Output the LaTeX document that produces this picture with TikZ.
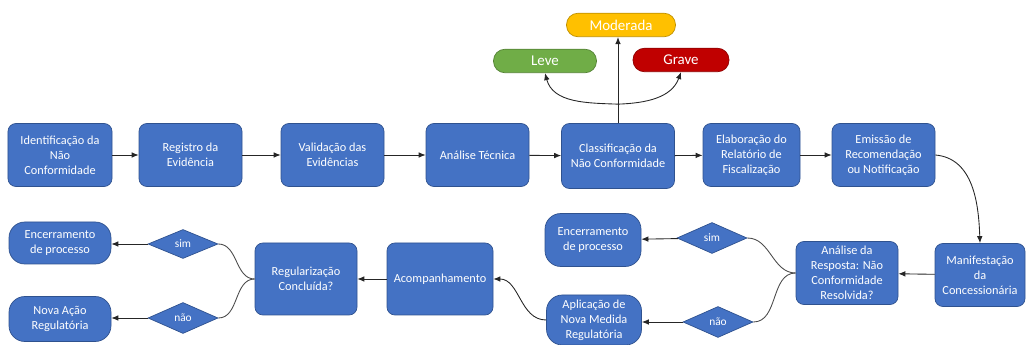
\documentclass[tikz,border=0pt]{standalone}
\usepackage{fontspec}
\setmainfont{Carlito}
\usetikzlibrary{arrows.meta, positioning, shapes.geometric, calc}
\definecolor{fsblue}{HTML}{4472C4}
\definecolor{fsedge}{HTML}{2F528F}
\definecolor{fsgreen}{HTML}{70AD47}
\definecolor{fsyellow}{HTML}{FFC000}
\definecolor{fsred}{HTML}{C00000}

\begin{document}
\begin{tikzpicture}[
  every node/.style={font=\fontsize{7}{8.5}\selectfont, text=white},
  box/.style={rectangle, rounded corners=4.5pt, draw=fsedge, fill=fsblue, minimum width=#1, minimum height=1.26cm, align=center, inner sep=1pt},
  box/.default=2.06cm,
  endbox/.style={rectangle, rounded corners=9pt, draw=fsedge, fill=fsblue, minimum width=#1, align=center, inner sep=1pt},
  endbox/.default=2.04cm,
  level/.style={rectangle, rounded corners=6.5pt, draw=#1!75!black, fill=#1, minimum height=0.47cm, font=\fontsize{8.5}{10}\selectfont},
  choice/.style={diamond, aspect=2.3, draw=fsedge, fill=fsblue, minimum width=1.4cm, minimum height=0.62cm, inner sep=0pt, font=\fontsize{6.5}{8}\selectfont},
  arrow/.style={-{Latex[length=4pt,width=3.2pt]}, black!85, line width=0.5pt},
  link/.style={black!70, line width=0.5pt},
]
\useasboundingbox (0,0) rectangle (20.52,6.9);

% main line
\node[box=2.08cm] (ident) at (1.2,3.8) {Identificação da\\Não\\Conformidade};
\node[box] (registro) at (3.81,3.8) {Registro da\\Evidência};
\node[box] (valida) at (6.65,3.8) {Validação das\\Evidências};
\node[box] (tecnica) at (9.55,3.8) {Análise Técnica};
\node[box=2.26cm, minimum height=1.3cm] (classif) at (12.36,3.78) {Classificação da\\Não Conformidade};
\node[box=1.94cm] (relatorio) at (15.03,3.8) {Elaboração do\\Relatório de\\Fiscalização};
\node[box] (emissao) at (17.67,3.8) {Emissão de\\Recomendação\\ou Notificação};

% severity levels
\node[level=fsyellow, minimum width=2.18cm] (moderada) at (12.42,6.4) {Moderada};
\node[level=fsgreen, minimum width=2.06cm] (leve) at (10.9,5.68) {Leve};
\node[level=fsred, minimum width=1.92cm] (grave) at (13.62,5.7) {Grave};
\coordinate (split) at ($(classif.north)+(0,0.38)$);

% response loop
\node[box=1.8cm] (manif) at (19.6,1.4) {Manifestação\\da\\Concessionária};
\node[box=2.04cm] (resposta) at (16.94,1.44) {Análise da\\Resposta: Não\\Conformidade\\Resolvida?};
\node[choice] (simR) at (14.24,2.14) {sim};
\node[choice] (naoR) at (14.36,0.46) {não};
\node[endbox=1.92cm, minimum height=1.06cm] (encR) at (11.86,2.1) {Encerramento\\de processo};
\node[endbox=1.9cm, minimum height=1.0cm] (aplic) at (11.88,0.5) {Aplicação de\\Nova Medida\\Regulatória};

% follow-up
\node[box=2.12cm, minimum height=1.44cm] (acomp) at (8.8,1.32) {Acompanhamento};
\node[box=2.04cm, minimum height=1.44cm] (regul) at (6.12,1.32) {Regularização\\Concluída?};
\node[choice, minimum height=0.58cm] (simL) at (3.66,2.02) {sim};
\node[choice] (naoL) at (3.66,0.54) {não};
\node[endbox, minimum height=0.84cm] (encL) at (1.2,2.04) {Encerramento\\de processo};
\node[endbox, minimum height=0.9cm] (nova) at (1.2,0.52) {Nova Ação\\Regulatória};

\draw[arrow] (ident) -- (registro);
\draw[arrow] (registro) -- (valida);
\draw[arrow] (valida) -- (tecnica);
\draw[arrow] (tecnica) -- (classif);
\draw[arrow] (classif) -- (relatorio);
\draw[arrow] (relatorio) -- (emissao);

\draw[arrow] (classif.north) -- (classif.north |- moderada.south);
\draw[arrow] (split) to[out=178,in=-75] (leve.south);
\draw[arrow] (split) to[out=2,in=-110] (grave.south);

\draw[arrow] (emissao.east) to[out=-5,in=92] (manif.north);
\draw[arrow] (manif) -- (resposta);
\draw[link] (resposta.west) to[out=180,in=0] (simR.east);
\draw[link] (resposta.west) to[out=180,in=0] (naoR.east);
\draw[arrow] (simR) -- (encR);
\draw[arrow] (naoR) -- (naoR -| aplic.east);

\draw[arrow] (aplic.west) to[out=180,in=0] (acomp.east);
\draw[arrow] (acomp) -- (regul);
\draw[link] (regul.west) to[out=180,in=0] (simL.east);
\draw[link] (regul.west) to[out=180,in=0] (naoL.east);
\draw[arrow] (simL) -- (simL -| encL.east);
\draw[arrow] (naoL) -- (naoL -| nova.east);
\end{tikzpicture}
\end{document}
